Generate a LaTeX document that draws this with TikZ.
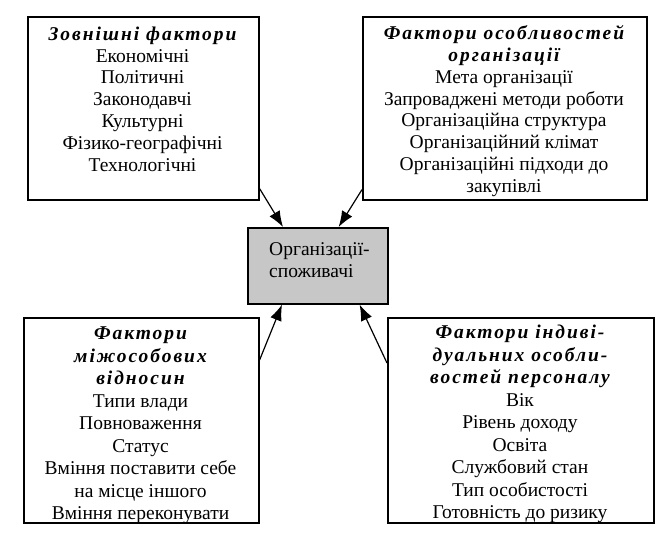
\documentclass[tikz,border=0pt]{standalone}
\usepackage{fontspec}
\setmainfont{Liberation Serif}
\newfontfamily\titlefont[LetterSpace=10]{Liberation Serif}
\usetikzlibrary{shapes,arrows.meta}
\newcommand\factfont{\fontsize{19.5}{21.8}\selectfont}
\newcommand\lowfont{\fontsize{19.5}{22.5}\selectfont}
\newcommand\facttitle[1]{{\titlefont\bfseries\itshape #1}}
\tikzset{
  factbox/.style={draw, line width=1.6pt, anchor=north west, inner sep=0pt},
  facttext/.style={anchor=north, align=center, inner sep=0pt, font=\factfont},
  factarrow/.style={-{Latex[length=16pt,width=12pt]}, line width=1.2pt}
}
\begin{document}
\begin{tikzpicture}[x=1pt,y=-1pt]
\useasboundingbox (0,0) rectangle (666,536);

% to draw boxes
\node [factbox, minimum width=231pt, minimum height=183pt] (zovn) at (27,16) {};
\node [factbox, minimum width=284pt, minimum height=183pt] (osobl) at (362,16) {};
\node [factbox, minimum width=235pt, minimum height=205pt] (mizh) at (23,317) {};
\node [factbox, minimum width=266pt, minimum height=205pt] (indyv) at (387,317) {};
\node [factbox, fill=black!22, minimum width=140pt, minimum height=76pt] (org) at (247,227) {};

% to write central entity
\node [anchor=north west, align=left, inner sep=0pt, font=\factfont] (orgtext) at (269,242.5) {Організації-\\споживачі};

% Зовнішні фактори
\node [facttext] (zovntext) at (142.5,26.5) {\facttitle{Зовнішні фактори}\\
Економічні\\ Політичні\\ Законодавчі\\ Культурні\\ Фізико-географічні\\ Технологічні};

% Фактори особливостей організації
\node [facttext] (osobltext) at (504,25.5) {\facttitle{Фактори особливостей}\\ \facttitle{організації}\\
Мета організації\\ Запроваджені методи роботи\\ Організаційна структура\\
Організаційний клімат\\ Організаційні підходи до\\ закупівлі};

% Фактори міжособових відносин
\node [facttext, font=\lowfont] (mizhtext) at (140.5,327) {\facttitle{Фактори}\\ \facttitle{міжособових}\\ \facttitle{відносин}\\
Типи влади\\ Повноваження\\ Статус\\ Вміння поставити себе\\ на місце іншого\\ Вміння переконувати};

% Фактори індивідуальних особливостей персоналу
\node [facttext, font=\lowfont] (indyvtext) at (520,325) {\facttitle{Фактори індиві-}\\ \facttitle{дуальних особли-}\\ \facttitle{востей персоналу}\\
Вік\\ Рівень доходу\\ Освіта\\ Службовий стан\\ Тип особистості\\ Готовність до ризику};

% to draw arrows
\draw [factarrow] ([yshift=12pt]zovn.south east) -- ([xshift=36pt]org.north west);
\draw [factarrow] ([yshift=11pt]osobl.south west) -- ([xshift=-50pt]org.north east);
\draw [factarrow] ([yshift=-43pt]mizh.north east) -- ([xshift=35pt]org.south west);
\draw [factarrow] ([yshift=-46pt]indyv.north west) -- ([xshift=-29pt]org.south east);
\end{tikzpicture}
\end{document}
